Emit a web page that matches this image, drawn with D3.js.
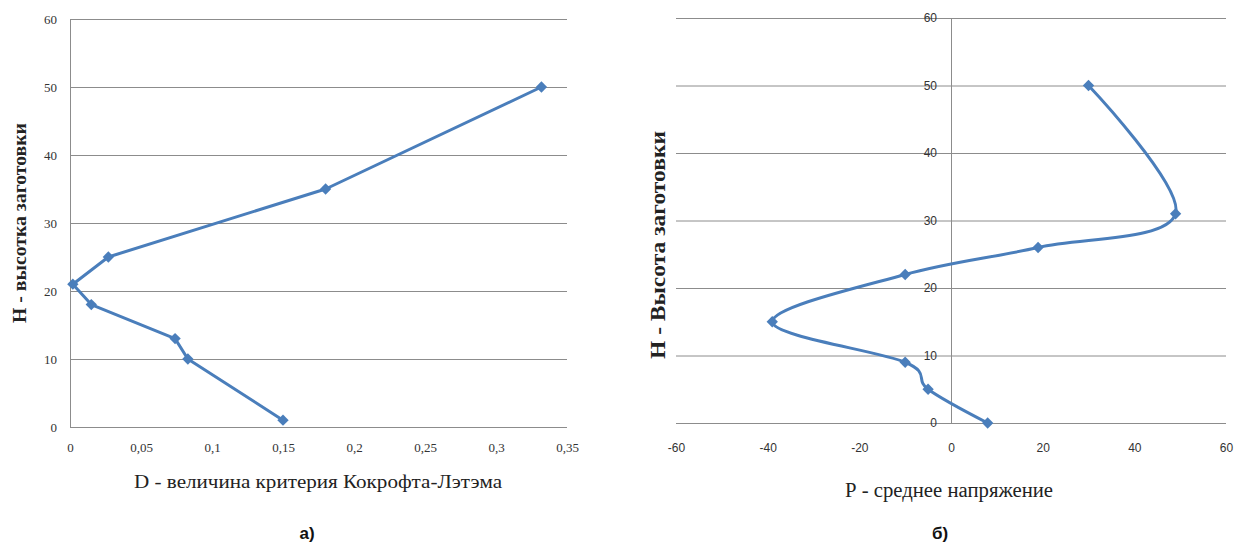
<!DOCTYPE html>
<html>
<head>
<meta charset="utf-8">
<script src="https://cdn.jsdelivr.net/npm/d3@7"></script>
<style>
  body { margin: 0; background: #fff; }
  svg { display: block; }
  .serif { font-family: "Liberation Serif", "Times New Roman", serif; }
  .sans { font-family: "Liberation Sans", Arial, sans-serif; }
</style>
</head>
<body>
<svg width="1234" height="546"></svg>
<script>
var svg = d3.select("svg");

// chart a) - D vs H
var dValues = [0.15, 0.083, 0.074, 0.015, 0.002, 0.027, 0.18, 0.332];
var hLeft = [1, 10, 13, 18, 21, 25, 35, 50];
var leftXTicks = [0, 0.05, 0.1, 0.15, 0.2, 0.25, 0.3, 0.35];
var leftYTicks = [0, 10, 20, 30, 40, 50, 60];

// chart б) - P vs H
var pValues = [8, -5, -10, -39, -10, 19, 49, 30];
var hRight = [0, 5, 9, 15, 22, 26, 31, 50];
var rightXTicks = [-60, -40, -20, 0, 20, 40, 60];
var rightYTicks = [0, 10, 20, 30, 40, 50, 60];

var lineColor = "#4a7ebb",
    gridColor = "#8c8c8c";

var diamond = d3.symbol().type(d3.symbolSquare).size(64);
var comma = function(d) { return String(d).replace(".", ","); };
var plain = function(d) { return String(d); };

// ---- left chart ----
var x1 = d3.scaleLinear().domain([0, 0.35]).range([70, 567]);
var y1 = d3.scaleLinear().domain([0, 60]).range([427, 19]);

var left = svg.append("g");

left.append("g")
    .attr("transform", "translate(70,0)")
    .call(d3.axisLeft(y1).tickValues(leftYTicks).tickSize(-(567 - 70)).tickPadding(13).tickFormat(plain))
    .call(function(g) {
        g.select(".domain").attr("stroke", gridColor);
        g.selectAll(".tick line").attr("stroke", gridColor);
        g.selectAll(".tick text")
            .attr("class", "serif")
            .attr("font-family", null)
            .attr("font-size", 13)
            .attr("fill", "#333");
    });

left.append("g")
    .attr("transform", "translate(0,427)")
    .call(d3.axisBottom(x1).tickValues(leftXTicks).tickSize(0).tickPadding(16).tickFormat(comma))
    .call(function(g) {
        g.select(".domain").remove();
        g.selectAll(".tick text")
            .attr("class", "serif")
            .attr("font-size", 13)
            .attr("fill", "#333");
    });

var leftPts = dValues.map(function(d, i) { return [d, hLeft[i]]; });

left.append("path")
    .datum(leftPts)
    .attr("fill", "none")
    .attr("stroke", lineColor)
    .attr("stroke-width", 3)
    .attr("stroke-linejoin", "round")
    .attr("d", d3.line().x(function(d) { return x1(d[0]); }).y(function(d) { return y1(d[1]); }));

left.selectAll(".mk")
    .data(leftPts)
    .enter()
    .append("path")
    .attr("class", "mk")
    .attr("d", diamond)
    .attr("fill", lineColor)
    .attr("transform", function(d) { return "translate(" + x1(d[0]) + "," + y1(d[1]) + ") rotate(45)"; });

left.append("text")
    .attr("class", "serif")
    .attr("transform", "translate(26,223) rotate(-90)")
    .attr("text-anchor", "middle")
    .attr("font-weight", "bold")
    .attr("font-size", 18)
    .attr("fill", "#222")
    .attr("textLength", 200)
    .attr("lengthAdjust", "spacingAndGlyphs")
    .text("Н - высотка заготовки");

left.append("text")
    .attr("class", "serif")
    .attr("x", 318)
    .attr("y", 488)
    .attr("text-anchor", "middle")
    .attr("font-size", 18)
    .attr("fill", "#222")
    .attr("textLength", 368)
    .attr("lengthAdjust", "spacingAndGlyphs")
    .text("D - величина критерия Кокрофта-Лэтэма");

svg.append("text")
    .attr("class", "sans")
    .attr("x", 307)
    .attr("y", 539)
    .attr("text-anchor", "middle")
    .attr("font-weight", "bold")
    .attr("font-size", 17)
    .attr("fill", "#111")
    .text("а)");

// ---- right chart ----
var x2 = d3.scaleLinear().domain([-60, 60]).range([676, 1226]);
var y2 = d3.scaleLinear().domain([0, 60]).range([423, 18]);

var right = svg.append("g");

right.append("g")
    .attr("transform", "translate(676,0)")
    .call(d3.axisLeft(y2).tickValues(rightYTicks).tickSize(-(1226 - 676)).tickFormat(""))
    .call(function(g) {
        g.select(".domain").remove();
        g.selectAll(".tick line").attr("stroke", gridColor);
    });

right.append("g")
    .attr("transform", "translate(" + x2(0) + ",0)")
    .call(d3.axisLeft(y2).tickValues(rightYTicks).tickSize(0).tickPadding(14).tickFormat(plain))
    .call(function(g) {
        g.select(".domain").attr("stroke", gridColor);
        g.selectAll(".tick text")
            .attr("class", "sans")
            .attr("font-size", 12)
            .attr("fill", "#333");
    });

right.append("g")
    .attr("transform", "translate(0,423)")
    .call(d3.axisBottom(x2).tickValues(rightXTicks).tickSize(0).tickPadding(20).tickFormat(plain))
    .call(function(g) {
        g.select(".domain").remove();
        g.selectAll(".tick text")
            .attr("class", "sans")
            .attr("font-size", 12)
            .attr("fill", "#333");
    });

var rightPts = pValues.map(function(d, i) { return [d, hRight[i]]; });

right.append("path")
    .datum(rightPts)
    .attr("fill", "none")
    .attr("stroke", lineColor)
    .attr("stroke-width", 3)
    .attr("d", d3.line()
        .curve(d3.curveCatmullRom.alpha(0))
        .x(function(d) { return x2(d[0]); })
        .y(function(d) { return y2(d[1]); }));

right.selectAll(".mk")
    .data(rightPts)
    .enter()
    .append("path")
    .attr("class", "mk")
    .attr("d", diamond)
    .attr("fill", lineColor)
    .attr("transform", function(d) { return "translate(" + x2(d[0]) + "," + y2(d[1]) + ") rotate(45)"; });

right.append("text")
    .attr("class", "serif")
    .attr("transform", "translate(665,245) rotate(-90)")
    .attr("text-anchor", "middle")
    .attr("font-weight", "bold")
    .attr("font-size", 21)
    .attr("fill", "#222")
    .attr("textLength", 228)
    .attr("lengthAdjust", "spacingAndGlyphs")
    .text("Н - Высота заготовки");

right.append("text")
    .attr("class", "serif")
    .attr("x", 949)
    .attr("y", 497)
    .attr("text-anchor", "middle")
    .attr("font-size", 20)
    .attr("fill", "#222")
    .attr("textLength", 208)
    .attr("lengthAdjust", "spacingAndGlyphs")
    .text("Р - среднее напряжение");

svg.append("text")
    .attr("class", "sans")
    .attr("x", 940)
    .attr("y", 539)
    .attr("text-anchor", "middle")
    .attr("font-weight", "bold")
    .attr("font-size", 17)
    .attr("fill", "#111")
    .text("б)");
</script>
</body>
</html>
